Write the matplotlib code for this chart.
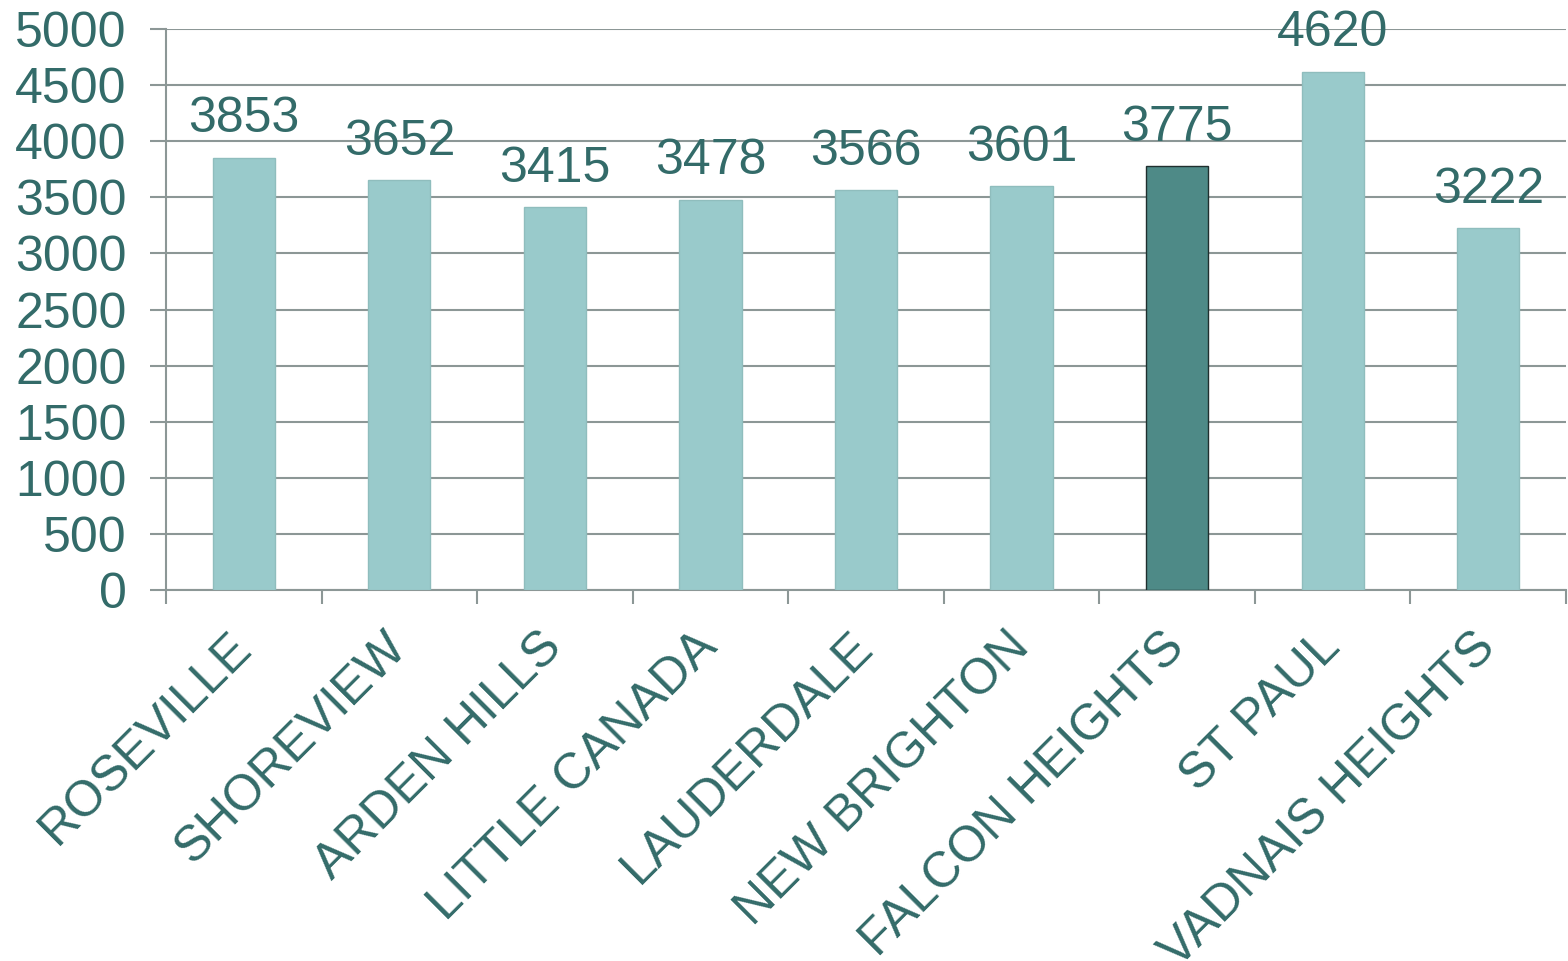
import matplotlib
matplotlib.use("Agg")
import matplotlib.pyplot as plt
import numpy as np

cities = ["ROSEVILLE", "SHOREVIEW", "ARDEN HILLS", "LITTLE CANADA", "LAUDERDALE",
          "NEW BRIGHTON", "FALCON HEIGHTS", "ST PAUL", "VADNAIS HEIGHTS"]
values = [3853, 3652, 3415, 3478, 3566, 3601, 3775, 4620, 3222]
highlight = "FALCON HEIGHTS"
y_ticks = [0, 500, 1000, 1500, 2000, 2500, 3000, 3500, 4000, 4500, 5000]

text_color = "#336b69"
bar_color = "#99cacb"
bar_edge = "#8fbdbd"
hi_color = "#4e8a87"
grid_color = "#8c9796"

plt.rcParams["font.family"] = ["Liberation Sans", "DejaVu Sans"]

fig = plt.figure(figsize=(15.68, 9.61), dpi=100)
ax = fig.add_axes([166 / 1568, 1 - 590 / 961, 1400 / 1568, 561 / 961])

x = np.arange(len(cities))
colors = [hi_color if c == highlight else bar_color for c in cities]
edges = ["#1f2f2e" if c == highlight else bar_edge for c in cities]
bars = ax.bar(x, values, width=0.4, color=colors, edgecolor=edges, linewidth=1.0, zorder=3)

for xi, v in zip(x, values):
    ax.annotate(str(v), (xi, v), xytext=(0, 11), textcoords="offset points",
                ha="center", va="bottom", fontsize=36, color=text_color, zorder=4)

ax.set_xlim(-0.5, len(cities) - 0.5)
ax.set_ylim(0, 5000)
ax.set_yticks(y_ticks)
ax.set_yticklabels([str(t) for t in y_ticks])
ax.tick_params(axis="y", labelsize=36, labelcolor=text_color, length=11.5,
               width=1.5, color=grid_color, pad=17)

# category boundary ticks on the x axis, labels at category centres
ax.set_xticks(np.arange(len(cities) + 1) - 0.5)
ax.set_xticklabels([])
ax.tick_params(axis="x", which="major", length=10, width=1.5, color=grid_color)
ax.set_xticks(x, minor=True)
ax.set_xticklabels(cities, minor=True, rotation=45, ha="right", va="center",
                   rotation_mode="anchor", fontsize=36, color=text_color)
ax.tick_params(axis="x", which="minor", length=0, pad=36)

ax.yaxis.grid(True, color=grid_color, linewidth=1.5, zorder=0)
ax.set_axisbelow(True)
for s in ["top", "right"]:
    ax.spines[s].set_visible(False)
for s in ["left", "bottom"]:
    ax.spines[s].set_color(grid_color)
    ax.spines[s].set_linewidth(1.5)

fig.savefig("out.png", dpi=100, facecolor="white")
